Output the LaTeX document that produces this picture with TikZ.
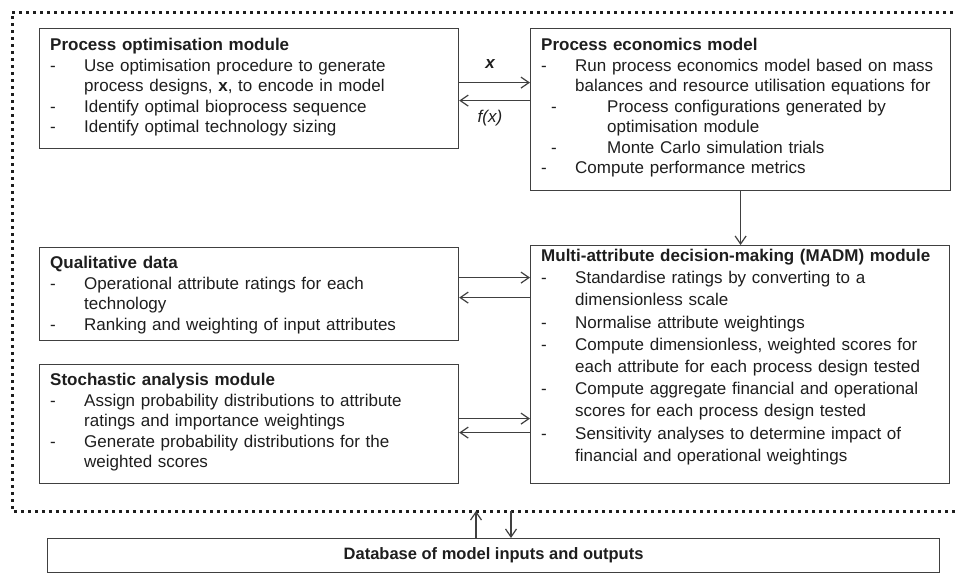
\documentclass[tikz,border=0pt]{standalone}
\usepackage{fontspec}
\setmainfont{Liberation Sans}
\usepackage{tikz}
\usetikzlibrary{
  arrows.meta,
  positioning,
  calc,
}
\definecolor{lineg}{HTML}{404040}
\definecolor{textk}{HTML}{1E1E1E}
\newcommand{\dashitem}[1]{\par\noindent\hangindent=34pt\hangafter=1%
  \hbox to 34pt{-\hfil}#1\par}
\newcommand{\subdash}[1]{\par\noindent\hangindent=66pt\hangafter=1%
  \hbox to 66pt{\kern10pt-\hfil}#1\par}

\begin{document}
\begin{tikzpicture}[
    x=1pt, y=1pt,
    module/.style={draw=lineg, line width=1.2pt, inner sep=0pt, anchor=north west},
    body/.style={anchor=north west, inner sep=0pt, text width=410pt, align=left,
                 text=textk, font=\fontsize{17}{20.5}\selectfont},
    link/.style={draw=lineg, line width=1.2pt,
                 -{Straight Barb[length=8pt, width=11pt, line width=1.2pt]}},
    bus/.style={draw=textk, line width=3pt, dash pattern=on 3pt off 4pt},
  ]
  \useasboundingbox (0,0) rectangle (956,-573);

  % module boxes
  \node[module, minimum width=419, minimum height=120] (opt)   at (39,-28)  {};
  \node[module, minimum width=420, minimum height=162] (econ)  at (530,-28) {};
  \node[module, minimum width=419, minimum height=93]  (qual)  at (39,-247) {};
  \node[module, minimum width=419, minimum height=119] (stoch) at (39,-364) {};
  \node[module, minimum width=419, minimum height=238] (madm)  at (530,-245) {};
  \node[module, minimum width=892, minimum height=34, text=textk,
        font=\fontsize{16.5}{20}\selectfont\bfseries] (db) at (47,-538)
        {Database of model inputs and outputs};

  % box texts
  \node[body] (opttxt) at ([shift={(11,-10)}]opt.north west) {%
    \textbf{Process optimisation module}
    \dashitem{Use optimisation procedure to generate\newline
      process designs, \textbf{x}, to encode in model}
    \dashitem{Identify optimal bioprocess sequence}
    \dashitem{Identify optimal technology sizing}};
  \node[body] (econtxt) at ([shift={(11,-10)}]econ.north west) {%
    \textbf{Process economics model}
    \dashitem{Run process economics model based on mass\newline
      balances and resource utilisation equations for}
    \subdash{Process configurations generated by\newline
      optimisation module}
    \subdash{Monte Carlo simulation trials}
    \dashitem{Compute performance metrics}};
  \node[body] (qualtxt) at ([shift={(11,-9)}]qual.north west) {%
    \textbf{Qualitative data}
    \dashitem{Operational attribute ratings for each\newline technology}
    \dashitem{Ranking and weighting of input attributes}};
  \node[body] (stochtxt) at ([shift={(11,-9)}]stoch.north west) {%
    \textbf{Stochastic analysis module}
    \dashitem{Assign probability distributions to attribute\newline
      ratings and importance weightings}
    \dashitem{Generate probability distributions for the\newline
      weighted scores}};
  \node[body, font=\fontsize{17}{22.2}\selectfont] (madmtxt)
    at ([shift={(11,-4)}]madm.north west) {%
    \textbf{Multi-attribute decision-making (MADM) module}
    \dashitem{Standardise ratings by converting to a\newline
      dimensionless scale}
    \dashitem{Normalise attribute weightings}
    \dashitem{Compute dimensionless, weighted scores for\newline
      each attribute for each process design tested}
    \dashitem{Compute aggregate financial and operational\newline
      scores for each process design tested}
    \dashitem{Sensitivity analyses to determine impact of\newline
      financial and operational weightings}};

  % dotted frame round the modules
  \coordinate (frametr) at (960,-12);
  \coordinate (framebr) at (960,-511);
  \coordinate (upx)     at (476,-511);
  \coordinate (downx)   at (511,-511);
  \draw[bus] (frametr) -| (12,-511) -- (framebr);

  % connectors
  \draw[link] ([yshift=6pt]opt.east) -- ([yshift=6pt]opt.east -| econ.west);
  \draw[link] ([yshift=-12pt]opt.east -| econ.west) -- ([yshift=-12pt]opt.east);
  \node[text=textk, font=\fontsize{17}{20}\selectfont\bfseries\itshape] (xlbl)
    at (490,-64) {x};
  \node[text=textk, font=\fontsize{17}{20}\selectfont\itshape] (fxlbl)
    at (490,-118) {f(x)};

  \draw[link] (econ.south) -- (econ.south |- madm.north);

  \draw[link] ([yshift=16.5pt]qual.east) -- ([yshift=16.5pt]qual.east -| madm.west);
  \draw[link] ([yshift=-3.5pt]qual.east -| madm.west) -- ([yshift=-3.5pt]qual.east);
  \draw[link] ([yshift=5.5pt]stoch.east) -- ([yshift=5.5pt]stoch.east -| madm.west);
  \draw[link] ([yshift=-8.5pt]stoch.east -| madm.west) -- ([yshift=-8.5pt]stoch.east);

  \draw[link] (db.north -| upx) -- (upx);
  \draw[link] (downx) -- (db.north -| downx);
\end{tikzpicture}
\end{document}
